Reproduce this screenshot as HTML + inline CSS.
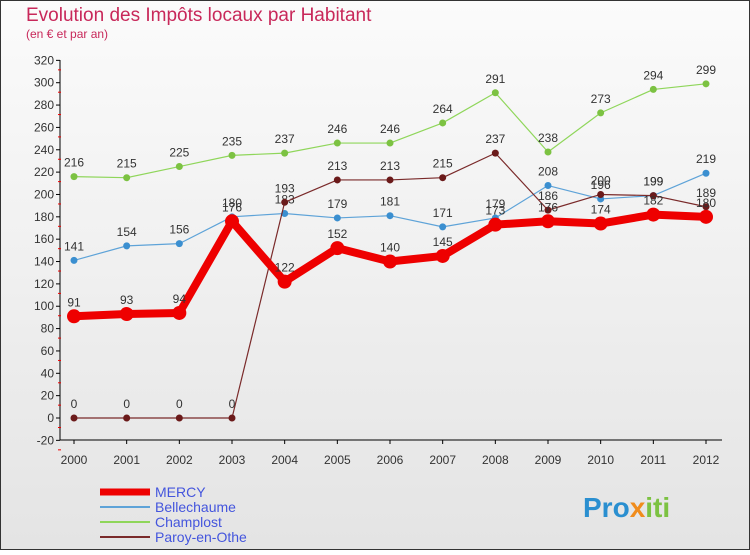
<!DOCTYPE html>
<html><head><meta charset="utf-8"><style>
body{margin:0;width:750px;height:550px;overflow:hidden;font-family:"Liberation Sans",sans-serif}
svg text{font-family:"Liberation Sans",sans-serif}
</style></head><body>
<svg id="c" width="750" height="550" xmlns="http://www.w3.org/2000/svg">
<defs><linearGradient id="bg" x1="0" y1="0" x2="0" y2="1"><stop offset="0" stop-color="#fbfbfb"/><stop offset="1" stop-color="#e4e4e4"/></linearGradient></defs>
<rect x="0.5" y="0.5" width="749" height="549" fill="url(#bg)" stroke="#333"/>
<text x="26" y="21" font-size="19" fill="#c8285a">Evolution des Impôts locaux par Habitant</text>
<text x="26" y="38" font-size="12" fill="#c8285a">(en € et par an)</text>
<g id="axes"></g><g id="series"></g><g id="legend"></g>
<text x="583" y="517" font-size="28" font-weight="bold" fill="#2a8fd0">Pro<tspan fill="#f08c1c">x</tspan><tspan fill="#7cc242">iti</tspan></text>
</svg>
<script>
const years=[2000,2001,2002,2003,2004,2005,2006,2007,2008,2009,2010,2011,2012];
const yTicks=[-20,0,20,40,60,80,100,120,140,160,180,200,220,240,260,280,300,320];
const mercy=[91,93,94,176,122,152,140,145,173,176,174,182,180];
const bellechaume=[141,154,156,180,183,179,181,171,179,208,196,199,219];
const champlost=[216,215,225,235,237,246,246,264,291,238,273,294,299];
const paroy=[0,0,0,0,193,213,213,215,237,186,200,199,189];
const NS="http://www.w3.org/2000/svg";
function X(i){return 74+i*(706-74)/12;}
function Y(v){return 418-v*(440-60)/340;}
function mk(t,a,p){const e=document.createElementNS(NS,t);for(const k in a)e.setAttribute(k,a[k]);p.appendChild(e);return e;}
const ax=document.getElementById('axes');
let a=mk('line',{x1:60,y1:60,x2:60,y2:440,stroke:'#000'},ax);


a=mk('line',{x1:60,y1:440,x2:722,y2:440,stroke:'#000'},ax);


yTicks.forEach(v=>{const y=Y(v);mk('line',{x1:56,y1:y,x2:60,y2:y,stroke:'#000'},ax);
mk('line',{x1:58,y1:y+9.5,x2:61,y2:y+9.5,stroke:'#e00'},ax);
const t=mk('text',{x:54,y:y+4,'font-size':12,'text-anchor':'end',fill:'#333'},ax);t.textContent=v;

});
years.forEach((yr,i)=>{const x=X(i);mk('line',{x1:x,y1:440,x2:x,y2:444,stroke:'#000'},ax);
const t=mk('text',{x:x,y:464,'font-size':12,'text-anchor':'middle',fill:'#333'},ax);t.textContent=yr;

});
const sg=document.getElementById('series');
function series(d,col,w,r,dot,name){const g=mk('g',{},sg);


mk('polyline',{points:d.map((v,i)=>X(i)+','+Y(v)).join(' '),fill:'none',stroke:col,'stroke-width':w,'stroke-linejoin':'round'},g);
d.forEach((v,i)=>{const c=mk('circle',{cx:X(i),cy:Y(v),r:r,fill:dot},g);


const t=mk('text',{x:X(i),y:Y(v)-10,'font-size':12,'text-anchor':'middle',fill:'#333'},g);t.textContent=v;});}
series(champlost,'#8fd65a',1.2,3.5,'#7cc242','champlost');
series(bellechaume,'#5ea3d8',1.2,3.5,'#3b8fd0','bellechaume');
series(paroy,'#7a2a2a',1.2,3.5,'#6b1a1a','paroy');
series(mercy,'#ee0000',8,7,'#ee0000','mercy');
const lg=document.getElementById('legend');
[['MERCY','#ee0000',7],['Bellechaume','#5ea3d8',2],['Champlost','#8fd65a',2],['Paroy-en-Othe','#7a2a2a',2]].forEach((l,i)=>{const y=492+i*15;
const g=mk('g',{},lg);


mk('line',{x1:100,y1:y,x2:150,y2:y,stroke:l[1],'stroke-width':l[2]},g);
const t=mk('text',{x:155,y:y+5,'font-size':14,fill:'#4455dd'},g);t.textContent=l[0];});
</script>
</body></html>
